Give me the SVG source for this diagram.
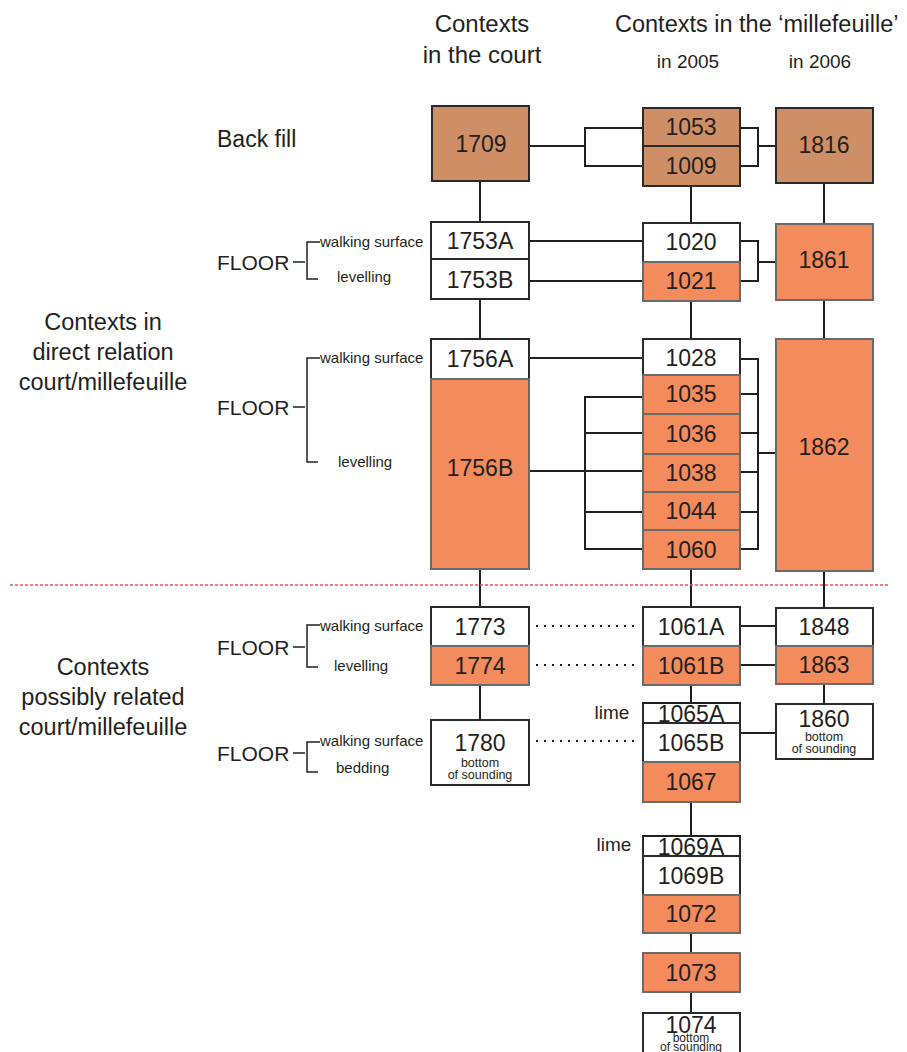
<svg xmlns="http://www.w3.org/2000/svg" width="907" height="1052" viewBox="0 0 907 1052">
<style>
text{font-family:"Liberation Sans",Arial,sans-serif;fill:#231f20}
.h{font-size:24px}
.lab{font-size:23.5px}
.num{font-size:23px;text-anchor:middle}
.sm{font-size:15px}
.yr{font-size:19px;text-anchor:middle}
.tiny{font-size:12.5px;text-anchor:middle}
.c{text-anchor:middle}
.br{fill:#cf8f66;stroke:#2a2a2a;stroke-width:2}
.or{fill:#f38b5d;stroke:#6a6a6a;stroke-width:2}
.wh{fill:#ffffff;stroke:#2a2a2a;stroke-width:2}
.ln{fill:none;stroke:#231f20;stroke-width:2}
.dot{fill:none;stroke:#231f20;stroke-width:2;stroke-dasharray:2 6}
</style>
<rect width="907" height="1052" fill="#ffffff"/>

<g id="headers">
<text class="h c" x="482" y="32">Contexts</text>
<text class="h c" x="482" y="63">in the court</text>
<text class="h" x="615" y="32" style="font-size:23.5px">Contexts in the ‘millefeuille’</text>
<text class="yr" x="688" y="68">in 2005</text>
<text class="yr" x="820" y="68">in 2006</text>
</g>

<g id="left-labels">
<text class="lab" x="217" y="147" style="font-size:23px">Back fill</text>
<text class="lab c" x="103" y="330">Contexts in</text>
<text class="lab c" x="103" y="360">direct relation</text>
<text class="lab c" x="103" y="390">court/millefeuille</text>
<text class="lab c" x="103" y="675">Contexts</text>
<text class="lab c" x="103" y="705">possibly related</text>
<text class="lab c" x="103" y="735">court/millefeuille</text>
</g>

<g id="floor1">
<text class="lab" x="217" y="270" style="font-size:21px">FLOOR</text>
<path class="ln" d="M293 262H305M320 242H307V279H318" style="stroke-width:1.5"/>
<text class="sm" x="320" y="247">walking surface</text>
<text class="sm" x="337" y="282">levelling</text>
</g>
<g id="floor2">
<text class="lab" x="217" y="415" style="font-size:21px">FLOOR</text>
<path class="ln" d="M293 407H305M320 358H307V462H318" style="stroke-width:1.5"/>
<text class="sm" x="320" y="363">walking surface</text>
<text class="sm" x="338" y="467">levelling</text>
</g>
<g id="floor3">
<text class="lab" x="217" y="655" style="font-size:21px">FLOOR</text>
<path class="ln" d="M293 647H305M320 625H307V667H318" style="stroke-width:1.5"/>
<text class="sm" x="320" y="631">walking surface</text>
<text class="sm" x="334" y="671">levelling</text>
</g>
<g id="floor4">
<text class="lab" x="217" y="761" style="font-size:21px">FLOOR</text>
<path class="ln" d="M293 753H305M320 742H307V772H318" style="stroke-width:1.5"/>
<text class="sm" x="320" y="746">walking surface</text>
<text class="sm" x="336" y="773">bedding</text>
</g>

<g id="connectors">
<path class="ln" d="M480 181V222M480 299V339M480 569V607M480 685V720"/>
<path class="ln" d="M691 186V223M691 301V339M691 569V607M691 685V703M691 802V836M691 933V953M691 992V1013"/>
<path class="ln" d="M824 183V224M824 300V339M824 571V608M824 684V704"/>
<path class="ln" d="M530 146H585M643 128H585V166H643"/>
<path class="ln" d="M740 128H758V166H740M758 146H776"/>
<path class="ln" d="M529 241H643M529 281H643"/>
<path class="ln" d="M740 241H758V281H740M758 262H776"/>
<path class="ln" d="M529 358H643M529 471H643"/>
<path class="ln" d="M643 397H585V549H643M585 433H643M585 512H643"/>
<path class="ln" d="M740 359H758V549H740M740 394H758M740 433H758M740 472H758M740 512H758M758 453H776"/>
<path class="ln" d="M740 626H776M740 665H776M740 733H776"/>
<path class="dot" d="M536 626H640M536 665H640M536 741H640"/>
<path d="M10 585H890" fill="none" stroke="#ef5050" stroke-width="1.5" stroke-dasharray="3 2"/>
</g>

<g id="n1709"><rect class="br" x="432" y="106" width="97" height="75"/><text class="num" x="481" y="152">1709</text></g>
<g id="n1753A"><rect class="wh" x="431" y="222" width="98" height="37"/><text class="num" x="480" y="249">1753A</text></g>
<g id="n1753B"><rect class="wh" x="431" y="259" width="98" height="40"/><text class="num" x="480" y="288">1753B</text></g>
<g id="n1756A"><rect class="wh" x="431" y="339" width="98" height="40"/><text class="num" x="480" y="367">1756A</text></g>
<g id="n1756B"><rect class="or" x="431" y="379" width="98" height="190"/><text class="num" x="480" y="476">1756B</text></g>
<g id="n1773"><rect class="wh" x="431" y="607" width="98" height="39"/><text class="num" x="480" y="635">1773</text></g>
<g id="n1774"><rect class="or" x="431" y="646" width="98" height="39"/><text class="num" x="480" y="674">1774</text></g>
<g id="n1780"><rect class="wh" x="431" y="720" width="98" height="65"/><text class="num" x="480" y="751">1780</text><text class="tiny" x="480" y="767">bottom</text><text class="tiny" x="480" y="779">of sounding</text></g>

<g id="n1053"><rect class="br" x="643" y="108" width="97" height="38"/><text class="num" x="691" y="135">1053</text></g>
<g id="n1009"><rect class="br" x="643" y="146" width="97" height="40"/><text class="num" x="691" y="174">1009</text></g>
<g id="n1020"><rect class="wh" x="643" y="223" width="97" height="39"/><text class="num" x="691" y="250">1020</text></g>
<g id="n1021"><rect class="or" x="643" y="262" width="97" height="39"/><text class="num" x="691" y="289">1021</text></g>
<g id="n1028"><rect class="wh" x="643" y="339" width="97" height="36"/><text class="num" x="691" y="366">1028</text></g>
<g id="n1035"><rect class="or" x="643" y="375" width="97" height="39"/><text class="num" x="691" y="402">1035</text></g>
<g id="n1036"><rect class="or" x="643" y="414" width="97" height="40"/><text class="num" x="691" y="442">1036</text></g>
<g id="n1038"><rect class="or" x="643" y="454" width="97" height="38"/><text class="num" x="691" y="481">1038</text></g>
<g id="n1044"><rect class="or" x="643" y="492" width="97" height="38"/><text class="num" x="691" y="519">1044</text></g>
<g id="n1060"><rect class="or" x="643" y="530" width="97" height="39"/><text class="num" x="691" y="558">1060</text></g>
<g id="n1061A"><rect class="wh" x="643" y="607" width="97" height="39"/><text class="num" x="691" y="635">1061A</text></g>
<g id="n1061B"><rect class="or" x="643" y="646" width="97" height="39"/><text class="num" x="691" y="674">1061B</text></g>
<g id="n1065A"><rect class="wh" x="643" y="703" width="97" height="20"/><text class="num" x="691" y="722">1065A</text><path class="ln" d="M643 703H740"/></g>
<g id="n1065B"><rect class="wh" x="643" y="723" width="97" height="39"/><text class="num" x="691" y="751">1065B</text></g>
<g id="n1067"><rect class="or" x="643" y="762" width="97" height="40"/><text class="num" x="691" y="790">1067</text></g>
<g id="n1069A"><rect class="wh" x="643" y="836" width="97" height="20"/><text class="num" x="691" y="855">1069A</text><path class="ln" d="M643 836H740"/></g>
<g id="n1069B"><rect class="wh" x="643" y="856" width="97" height="39"/><text class="num" x="691" y="884">1069B</text></g>
<g id="n1072"><rect class="or" x="643" y="895" width="97" height="38"/><text class="num" x="691" y="922">1072</text></g>
<g id="n1073"><rect class="or" x="643" y="953" width="97" height="39"/><text class="num" x="691" y="981">1073</text></g>
<g id="n1074"><rect class="wh" x="643" y="1013" width="97" height="50"/><text class="num" x="691" y="1033">1074</text><text class="tiny" x="691" y="1042" style="font-size:12px">bottom</text><text class="tiny" x="691" y="1051" style="font-size:12px">of sounding</text></g>

<g id="n1816"><rect class="br" x="776" y="108" width="97" height="75"/><text class="num" x="824" y="153">1816</text></g>
<g id="n1861"><rect class="or" x="776" y="224" width="97" height="76"/><text class="num" x="824" y="268">1861</text></g>
<g id="n1862"><rect class="or" x="776" y="339" width="97" height="232"/><text class="num" x="824" y="455">1862</text></g>
<g id="n1848"><rect class="wh" x="776" y="608" width="97" height="38"/><text class="num" x="824" y="635">1848</text></g>
<g id="n1863"><rect class="or" x="776" y="646" width="97" height="38"/><text class="num" x="824" y="673">1863</text></g>
<g id="n1860"><rect class="wh" x="776" y="704" width="97" height="55"/><text class="num" x="824" y="727">1860</text><text class="tiny" x="824" y="741">bottom</text><text class="tiny" x="824" y="753">of sounding</text></g>

<g id="lime-labels">
<text class="yr" x="612" y="719" style="text-anchor:middle">lime</text>
<text class="yr" x="614" y="851" style="text-anchor:middle">lime</text>
</g>
</svg>
